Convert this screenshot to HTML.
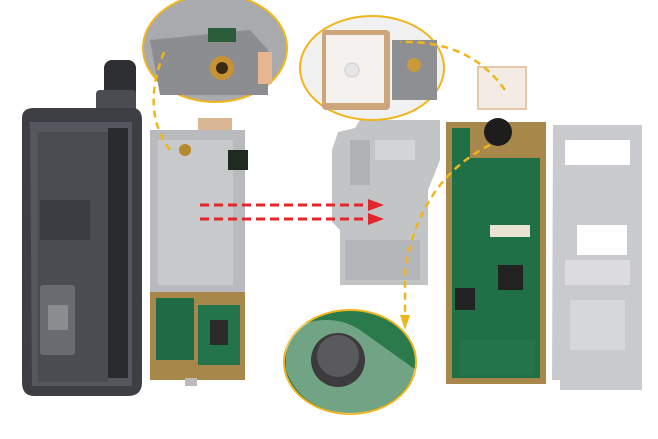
<!DOCTYPE html>
<html><head><meta charset="utf-8"><style>
html,body{margin:0;padding:0;background:#fff;}
svg{display:block}
</style></head><body>
<svg width="658" height="439" viewBox="0 0 658 439" xmlns="http://www.w3.org/2000/svg">
<rect width="658" height="439" fill="#fff"/>
<!-- phone housing -->
<rect x="104" y="60" width="32" height="50" rx="8" fill="#2e2f33"/>
<rect x="96" y="90" width="40" height="30" rx="4" fill="#4a4c52"/>
<path d="M22 118 Q22 108 34 108 L132 108 Q142 108 142 120 L142 382 Q142 396 128 396 L34 396 Q22 396 22 382 Z" fill="#3d3f45"/>
<path d="M30 122 L132 122 L132 386 L32 386 Z" fill="#55575e"/>
<rect x="38" y="132" width="70" height="250" fill="#4a4c52"/>
<rect x="40" y="200" width="50" height="40" fill="#3a3c41"/>
<rect x="40" y="285" width="35" height="70" rx="3" fill="#6a6c72"/>
<rect x="48" y="305" width="20" height="25" fill="#8a8c90"/>
<rect x="108" y="128" width="20" height="250" fill="#2a2b2f"/>
<!-- middle board -->
<rect x="150" y="130" width="95" height="165" fill="#b9babd"/>
<rect x="158" y="140" width="75" height="145" fill="#c8c9cb"/>
<rect x="198" y="118" width="34" height="12" fill="#d9b794"/>
<circle cx="185" cy="150" r="6" fill="#b68a2c"/>
<rect x="228" y="150" width="20" height="20" fill="#1e2a22"/>
<rect x="150" y="292" width="95" height="88" fill="#a8874a"/>
<rect x="156" y="298" width="38" height="62" fill="#1f6b45"/>
<rect x="198" y="305" width="42" height="60" fill="#23744b"/>
<rect x="210" y="320" width="18" height="25" fill="#2b2b2b"/>
<rect x="185" y="378" width="12" height="8" fill="#bbb"/>
<!-- shield -->
<path d="M338 132 L355 128 L360 120 L440 120 L440 160 L428 190 L428 285 L340 285 L340 230 L332 222 L332 150 Z" fill="#c3c4c6"/>
<rect x="350" y="140" width="20" height="45" fill="#b0b1b4"/>
<rect x="375" y="140" width="40" height="20" fill="#d3d4d6"/>
<rect x="345" y="240" width="75" height="40" fill="#b4b5b8"/>
<!-- PCB -->
<rect x="446" y="122" width="100" height="262" fill="#a8874a"/>
<rect x="452" y="128" width="88" height="250" fill="#1f6f47"/>
<rect x="470" y="128" width="70" height="30" fill="#a8874a"/>
<circle cx="498" cy="132" r="14" fill="#1d1d1d"/>
<rect x="490" y="225" width="40" height="12" fill="#e9e3d4"/>
<rect x="498" y="265" width="25" height="25" fill="#222"/>
<rect x="455" y="288" width="20" height="22" fill="#222"/>
<rect x="460" y="340" width="75" height="35" fill="#23744b"/>
<!-- frame -->
<path d="M553 125 L642 125 L642 390 L560 390 L560 380 L552 380 Z" fill="#c9cacd"/>
<rect x="565" y="140" width="65" height="25" fill="#fff"/>
<rect x="577" y="225" width="50" height="30" fill="#fff"/>
<rect x="565" y="260" width="65" height="25" fill="#dcdcde"/>
<rect x="570" y="300" width="55" height="50" fill="#d6d7d9"/>
<!-- small patch -->
<rect x="478" y="67" width="48" height="42" fill="#f3ece4" stroke="#e3c9aa" stroke-width="2"/>
<!-- circle 1 -->
<ellipse cx="215" cy="48" rx="72" ry="54" fill="#a9aaad" stroke="#f1b51c" stroke-width="2"/>
<path d="M150 40 L250 30 L268 50 L268 95 L160 95 Z" fill="#8c8d90"/>
<circle cx="222" cy="68" r="12" fill="#c59334"/>
<circle cx="222" cy="68" r="6" fill="#3b2b12"/>
<rect x="258" y="52" width="14" height="32" fill="#e7b58f"/>
<rect x="208" y="28" width="28" height="14" fill="#2b5d3a"/>
<!-- circle 2 -->
<ellipse cx="372" cy="68" rx="72" ry="52" fill="#f1f1f2" stroke="#f1b51c" stroke-width="2"/>
<rect x="322" y="30" width="68" height="80" rx="4" fill="#cda57a"/>
<rect x="326" y="35" width="58" height="68" fill="#f4f1ee"/>
<circle cx="352" cy="70" r="7" fill="#e6e6e6" stroke="#ccc"/>
<rect x="392" y="40" width="45" height="60" fill="#8e8f92"/>
<circle cx="414" cy="65" r="7" fill="#c99a3c"/>
<!-- circle 3 -->
<ellipse cx="350" cy="362" rx="66" ry="52" fill="#2a7a4c" stroke="#f1b51c" stroke-width="2"/>
<path d="M286 330 Q330 310 360 330 L416 370 Q400 410 350 414 Q300 410 286 370 Z" fill="#f6f3ef" opacity="0.35"/>
<circle cx="338" cy="360" r="27" fill="#3b3b3d"/>
<circle cx="338" cy="356" r="21" fill="#5a5a5c"/>
<!-- yellow dashed -->
<g fill="none" stroke="#f1b51c" stroke-width="2.5" stroke-dasharray="7 5">
<path d="M170 150 Q140 110 165 50"/>
<path d="M505 90 Q470 40 400 42"/>
<path d="M490 145 Q420 180 405 270 L405 315"/>
</g>
<path d="M400 315 L410 315 L405 330 Z" fill="#f1b51c"/>
<!-- red arrows -->
<g stroke="#e3262b" stroke-width="3" stroke-dasharray="9 5" fill="none">
<line x1="200" y1="205" x2="370" y2="205"/>
<line x1="200" y1="219" x2="370" y2="219"/>
</g>
<path d="M368 199 L384 205 L368 211 Z" fill="#e3262b"/>
<path d="M368 213 L384 219 L368 225 Z" fill="#e3262b"/>
</svg>
</body></html>
